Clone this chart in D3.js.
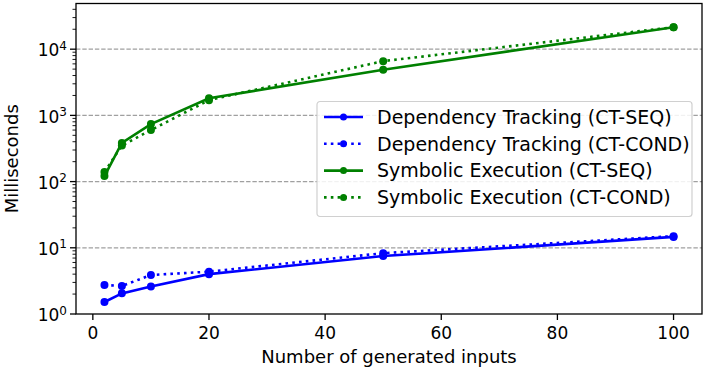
<!DOCTYPE html>
<html>
<head>
<meta charset="utf-8">
<script src="https://cdn.jsdelivr.net/npm/d3@7"></script>
<style>
  body { margin: 0; background: #fff; }
  svg { font-family: "DejaVu Sans", sans-serif; }
</style>
</head>
<body>
<div id="chart"></div>
<script>
var W = 706, H = 375;

// data
var inputs = [2, 5, 10, 20, 50, 100];
var depSeq = [1.52, 2.05, 2.6, 4.0, 7.5, 14.6];
var depCond = [2.74, 2.65, 3.88, 4.36, 8.3, 15.0];
var symSeq = [121, 383, 740, 1810, 4900, 21500];
var symCond = [139, 350, 600, 1700, 6600, 21500];

var seriesNames = ["Dependency Tracking (CT-SEQ)", "Dependency Tracking (CT-COND)",
                   "Symbolic Execution (CT-SEQ)", "Symbolic Execution (CT-COND)"];
var seriesValues = [depSeq, depCond, symSeq, symCond];
var seriesColors = ["#0000ff", "#0000ff", "#008000", "#008000"];
var seriesDotted = [false, true, false, true];

var xTicks = [0, 20, 40, 60, 80, 100];
var yExps = [0, 1, 2, 3, 4];

var margin = {left: 76, right: 4, top: 3.5, bottom: 61};
var width = W - margin.left - margin.right;
var height = H - margin.top - margin.bottom;

var svg = d3.select("#chart")
  .append("svg")
    .attr("width", W)
    .attr("height", H);

var g = svg.append("g")
  .attr("transform", "translate(" + margin.left + "," + margin.top + ")");

var x = d3.scaleLinear().domain([-2.9, 104.9]).range([0, width]);
var y = d3.scaleLog().domain([1, Math.pow(10, 4.69)]).range([height, 0]);

// grid lines at major decades
g.selectAll(".grid")
  .data(yExps.slice(1))
  .enter().append("line")
    .attr("x1", 0).attr("x2", width)
    .attr("y1", function(d) { return y(Math.pow(10, d)); })
    .attr("y2", function(d) { return y(Math.pow(10, d)); })
    .attr("stroke", "#a0a0a0")
    .attr("stroke-width", 1.2)
    .attr("stroke-dasharray", "4.4,1.9");

// minor ticks on the log axis
var minor = [];
for (var e = 0; e < 5; e++) {
  for (var m = 2; m <= 9; m++) {
    var v = m * Math.pow(10, e);
    if (v <= y.domain()[1]) minor.push(v);
  }
}
g.selectAll(".minor")
  .data(minor)
  .enter().append("line")
    .attr("x1", -3.5).attr("x2", 0)
    .attr("y1", function(d) { return y(d); })
    .attr("y2", function(d) { return y(d); })
    .attr("stroke", "#000")
    .attr("stroke-width", 0.9);

// major y ticks + labels
var yt = g.selectAll(".ytick")
  .data(yExps)
  .enter().append("g")
    .attr("transform", function(d) { return "translate(0," + y(Math.pow(10, d)) + ")"; });
yt.append("line").attr("x1", -6).attr("x2", 0).attr("stroke", "#000").attr("stroke-width", 1.3);
var ytext = yt.append("text")
  .attr("x", -9)
  .attr("dy", "0.42em")
  .attr("text-anchor", "end")
  .attr("font-size", 17);
ytext.append("tspan").text("10");
ytext.append("tspan").attr("dy", "-0.55em").attr("font-size", 12).text(function(d) { return d; });

// x axis
var xt = g.selectAll(".xtick")
  .data(xTicks)
  .enter().append("g")
    .attr("transform", function(d) { return "translate(" + x(d) + "," + height + ")"; });
xt.append("line").attr("y1", 0).attr("y2", 6).attr("stroke", "#000").attr("stroke-width", 1.3);
xt.append("text")
  .attr("y", 25)
  .attr("text-anchor", "middle")
  .attr("font-size", 17)
  .text(function(d) { return d; });

// series
var line = d3.line()
  .x(function(d, i) { return x(inputs[i]); })
  .y(function(d) { return y(d); });

seriesValues.forEach(function(vals, k) {
  g.append("path")
    .datum(vals)
    .attr("fill", "none")
    .attr("stroke", seriesColors[k])
    .attr("stroke-width", 2.6)
    .attr("stroke-dasharray", seriesDotted[k] ? "2.6,4.2" : null)
    .attr("d", line);
  g.selectAll(".pt" + k)
    .data(vals)
    .enter().append("circle")
      .attr("cx", function(d, i) { return x(inputs[i]); })
      .attr("cy", function(d) { return y(d); })
      .attr("r", 4)
      .attr("fill", seriesColors[k]);
});

// frame
g.append("rect")
  .attr("width", width).attr("height", height)
  .attr("fill", "none")
  .attr("stroke", "#000")
  .attr("stroke-width", 1.3);

// axis labels
svg.append("text")
  .attr("x", margin.left + width / 2)
  .attr("y", 363)
  .attr("text-anchor", "middle")
  .attr("font-size", 18)
  .text("Number of generated inputs");

svg.append("text")
  .attr("transform", "translate(18," + (margin.top + height / 2) + ") rotate(-90)")
  .attr("text-anchor", "middle")
  .attr("font-size", 18)
  .text("Milliseconds");

// legend
var legend = svg.append("g").attr("transform", "translate(317,101.5)");
legend.append("rect")
  .attr("width", 375).attr("height", 115)
  .attr("rx", 3)
  .attr("fill", "#fff").attr("fill-opacity", 0.85)
  .attr("stroke", "#d0d0d0").attr("stroke-width", 1.2);

var rows = legend.selectAll(".row")
  .data(seriesNames)
  .enter().append("g")
    .attr("transform", function(d, i) { return "translate(0," + (15.5 + i * 26.8) + ")"; });
rows.append("line")
  .attr("x1", 7).attr("x2", 46)
  .attr("stroke", function(d, i) { return seriesColors[i]; })
  .attr("stroke-width", 2.6)
  .attr("stroke-dasharray", function(d, i) { return seriesDotted[i] ? "2.6,4.2" : null; });
rows.append("circle")
  .attr("cx", 26.5).attr("r", 3.5)
  .attr("fill", function(d, i) { return seriesColors[i]; });
rows.append("text")
  .attr("x", 60)
  .attr("dy", "0.36em")
  .attr("font-size", 19)
  .text(function(d) { return d; });
</script>
</body>
</html>
